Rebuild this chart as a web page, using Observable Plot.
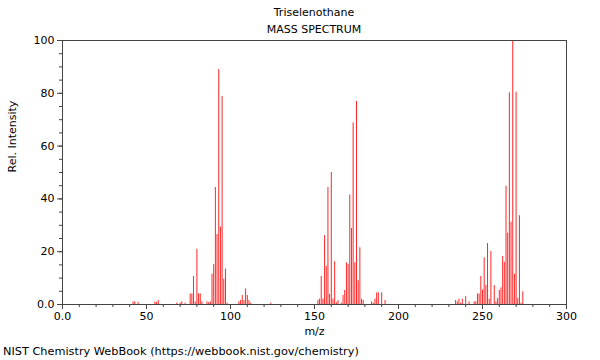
<!DOCTYPE html>
<html>
<head>
<meta charset="utf-8">
<script src="https://cdn.jsdelivr.net/npm/d3@7"></script>
<script src="https://cdn.jsdelivr.net/npm/@observablehq/plot@0.6"></script>
<style>
  html, body { margin: 0; padding: 0; background: #fff; }
  #wrap { position: relative; width: 600px; height: 360px; font-family: "DejaVu Sans", sans-serif; font-size: 11px; color: #000; }
  .t { position: absolute; left: 62px; width: 504px; text-align: center; white-space: nowrap; }
  #cap { position: absolute; left: 3px; top: 345px; white-space: nowrap; font-size: 11.3px; }
  svg { position: absolute; left: 0; top: 0; }
</style>
</head>
<body>
<div id="wrap">
  <div class="t" style="top:6px">Triselenothane</div>
  <div class="t" style="top:23px">MASS SPECTRUM</div>
  <div id="cap">NIST Chemistry WebBook (https://webbook.nist.gov/chemistry)</div>
</div>
<script>
const title = "Triselenothane";
const subtitle = "MASS SPECTRUM";
const xLabel = "m/z";
const yLabel = "Rel. Intensity";
const xTicks = [0, 50, 100, 150, 200, 250, 300];
const yTicks = [0, 20, 40, 60, 80, 100];

const mz = [
  42, 43, 45, 55, 56, 57, 68, 70, 71, 73,
  76, 77, 78, 79, 80, 81, 82, 83, 86, 87, 88, 89, 90, 91, 92, 93, 94, 95, 96, 97, 98,
  105, 106, 107, 108, 109, 110, 111, 112, 124,
  152, 153, 154, 155, 156, 157, 158, 159, 160, 161, 162, 163, 164, 166, 167, 168, 169,
  170, 171, 172, 173, 174, 175, 176, 177, 178, 179, 184, 185, 186, 187, 188, 190, 192,
  234, 235, 236, 237, 238, 240, 242, 245, 246, 247, 248, 249, 250, 251, 252, 253, 254,
  255, 257, 258, 259, 260, 261, 262, 263, 264, 265, 266, 267, 268, 269, 270, 271, 272, 273, 274
];
const intensity = [
  1.0, 1.0, 0.8, 1.0, 0.8, 1.5, 0.5, 0.5, 1.0, 0.5,
  4.0, 4.0, 10.6, 1.0, 20.9, 4.0, 4.0, 1.0, 1.0, 0.7, 1.0, 11.5, 15.1, 44.3, 26.5, 89.0, 29.3, 78.8, 9.6, 13.4, 0.5,
  1.0, 1.5, 3.4, 1.5, 5.9, 3.4, 1.5, 0.5, 0.5,
  1.5, 2.0, 10.6, 2.0, 26.1, 14.4, 44.3, 3.8, 50.0, 2.0, 16.2, 0.7, 1.5, 0.5, 3.4, 5.3, 15.8,
  15.1, 41.5, 28.8, 68.8, 15.8, 76.9, 9.0, 21.5, 2.0, 1.5, 1.0, 0.5, 2.0, 4.4, 4.4, 4.4, 1.5,
  1.5, 1.0, 2.0, 0.5, 2.0, 3.0, 1.0, 1.0, 1.0, 4.0, 4.0, 10.6, 5.5, 17.7, 7.2, 23.1, 2.0,
  20.1, 7.2, 1.0, 2.3, 5.3, 6.3, 18.2, 16.0, 44.8, 27.0, 80.2, 31.2, 100, 11.5, 80.4, 2.3, 33.6, 0.5, 4.8
];

const data = mz.map((m, i) => ({ mz: m, v: intensity[i] }));
const fmt = d => (d === 0 ? "0.0" : String(d));

const chart = Plot.plot({
  width: 600,
  height: 360,
  marginLeft: 62,
  marginRight: 34,
  marginTop: 40,
  marginBottom: 56,
  style: { fontFamily: "DejaVu Sans, sans-serif", fontSize: "11px", color: "#000", background: "transparent" },
  x: { domain: [0, 300] },
  y: { domain: [0, 100] },
  marks: [
    Plot.ruleX(data, { x: "mz", y1: 0, y2: "v", stroke: "#ff0000", strokeWidth: 1, strokeOpacity: 0.85 }),
    Plot.axisX(d3.range(0, 301, 10), { tickSize: 3, text: null, stroke: "#444", label: null }),
    Plot.axisX(xTicks, { tickSize: 5, tickPadding: 3, tickFormat: fmt, stroke: "#444", fill: "#000", fontSize: 11, label: null }),
    Plot.axisY(d3.range(0, 101, 5), { tickSize: 3, text: null, stroke: "#444", label: null }),
    Plot.axisY(yTicks, { tickSize: 5, tickPadding: 3, tickFormat: fmt, stroke: "#444", fill: "#000", fontSize: 11, label: null }),
    Plot.text([xLabel], { frameAnchor: "bottom", dy: 30, fontSize: 11, fill: "#000" }),
    Plot.text([yLabel], { frameAnchor: "left", dx: -50, rotate: -90, fontSize: 11, fill: "#000" }),
    Plot.frame({ stroke: "#444", strokeWidth: 1 })
  ]
});
document.getElementById("wrap").appendChild(chart);
</script>
</body>
</html>
